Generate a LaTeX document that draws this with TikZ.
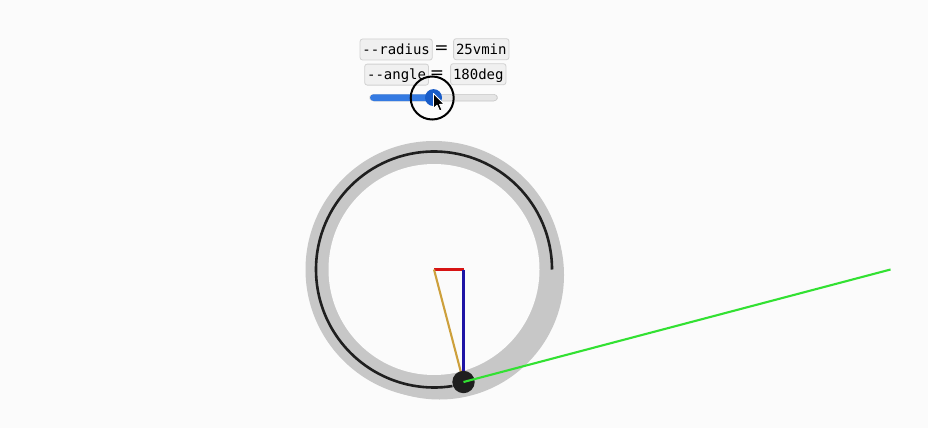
\documentclass[tikz,border=0pt]{standalone}
\usepackage{fontspec}
\setmonofont{DejaVu Sans Mono}
\setsansfont{DejaVu Sans}
\definecolor{trackblue}{RGB}{52,122,226}
\definecolor{thumbblue}{RGB}{24,92,200}
\definecolor{vred}{RGB}{215,20,20}
\definecolor{vblue}{RGB}{30,20,165}
\definecolor{vgold}{RGB}{205,160,60}
\definecolor{vgreen}{RGB}{50,225,50}
\begin{document}
\begin{tikzpicture}[x=1pt,y=-1pt,
  field/.style={draw=black!18, fill=black!6, rounded corners=2.5pt, line width=0.8pt,
    font=\ttfamily\fontsize{14}{14}\selectfont, inner xsep=2.4pt, inner ysep=0pt,
    minimum height=21pt, text depth=0pt},
  eqsign/.style={font=\sffamily\fontsize{17}{17}\selectfont, inner sep=0pt},
  seg/.style={line width=2.1pt}
]
\useasboundingbox[fill=black!1.5] (0,0) rectangle (928,428);
% controls
\node[field] (rad) at (396.2,49.5) {-{}-radius};
\node[eqsign] (eq1) at (441.5,49.3) {=};
\node[field] (radv) at (481.3,49.2) {25vmin};
\node[field] (ang) at (396.6,74.6) {-{}-angle};
\node[eqsign] (eq2) at (437,74.4) {=};
\node[field] (angv) at (478.3,74.2) {180deg};
% slider
\fill[black!10, draw=black!22, line width=0.6pt, rounded corners=3.5pt] (370,94.3) rectangle (497.3,101);
\fill[trackblue, rounded corners=3.5pt] (370,94.3) rectangle (434,101);
\coordinate (thumb) at (433.5,97.6);
\fill[thumbblue] (thumb) circle (8.5);
\draw[line width=2pt] (432.2,98) circle (21.5);
% pointer
\draw[fill=black, draw=white, line width=0.9pt, line join=round]
  (433.5,93.5) -- (433.5,108.5) -- (437,105.2) -- (439.6,111) -- (442,110) -- (439.6,104.4) -- (444.3,104.4) -- cycle;
% ring
\coordinate (c) at (434,269.5);
\fill[black!22] (c) circle (128.5);
\fill[black!22] (439.5,275) circle (124.5);
\fill[black!1.5] (c) circle (105.5);
\draw[line width=2.6pt, black!88] (552,269.5) arc[start angle=0, end angle=-279, radius=118];
% vectors
\coordinate (p) at (463.5,382);
\coordinate (q) at (463.5,269.5);
\coordinate (g) at (890.5,269.5);
\draw[seg, vred] (c) -- (q);
\draw[seg, vblue] (q) -- (p);
\draw[seg, vgold] (c) -- (p);
\fill[black!88] (p) circle (11.2);
\draw[seg, vgreen] (p) -- (g);
\end{tikzpicture}
\end{document}
